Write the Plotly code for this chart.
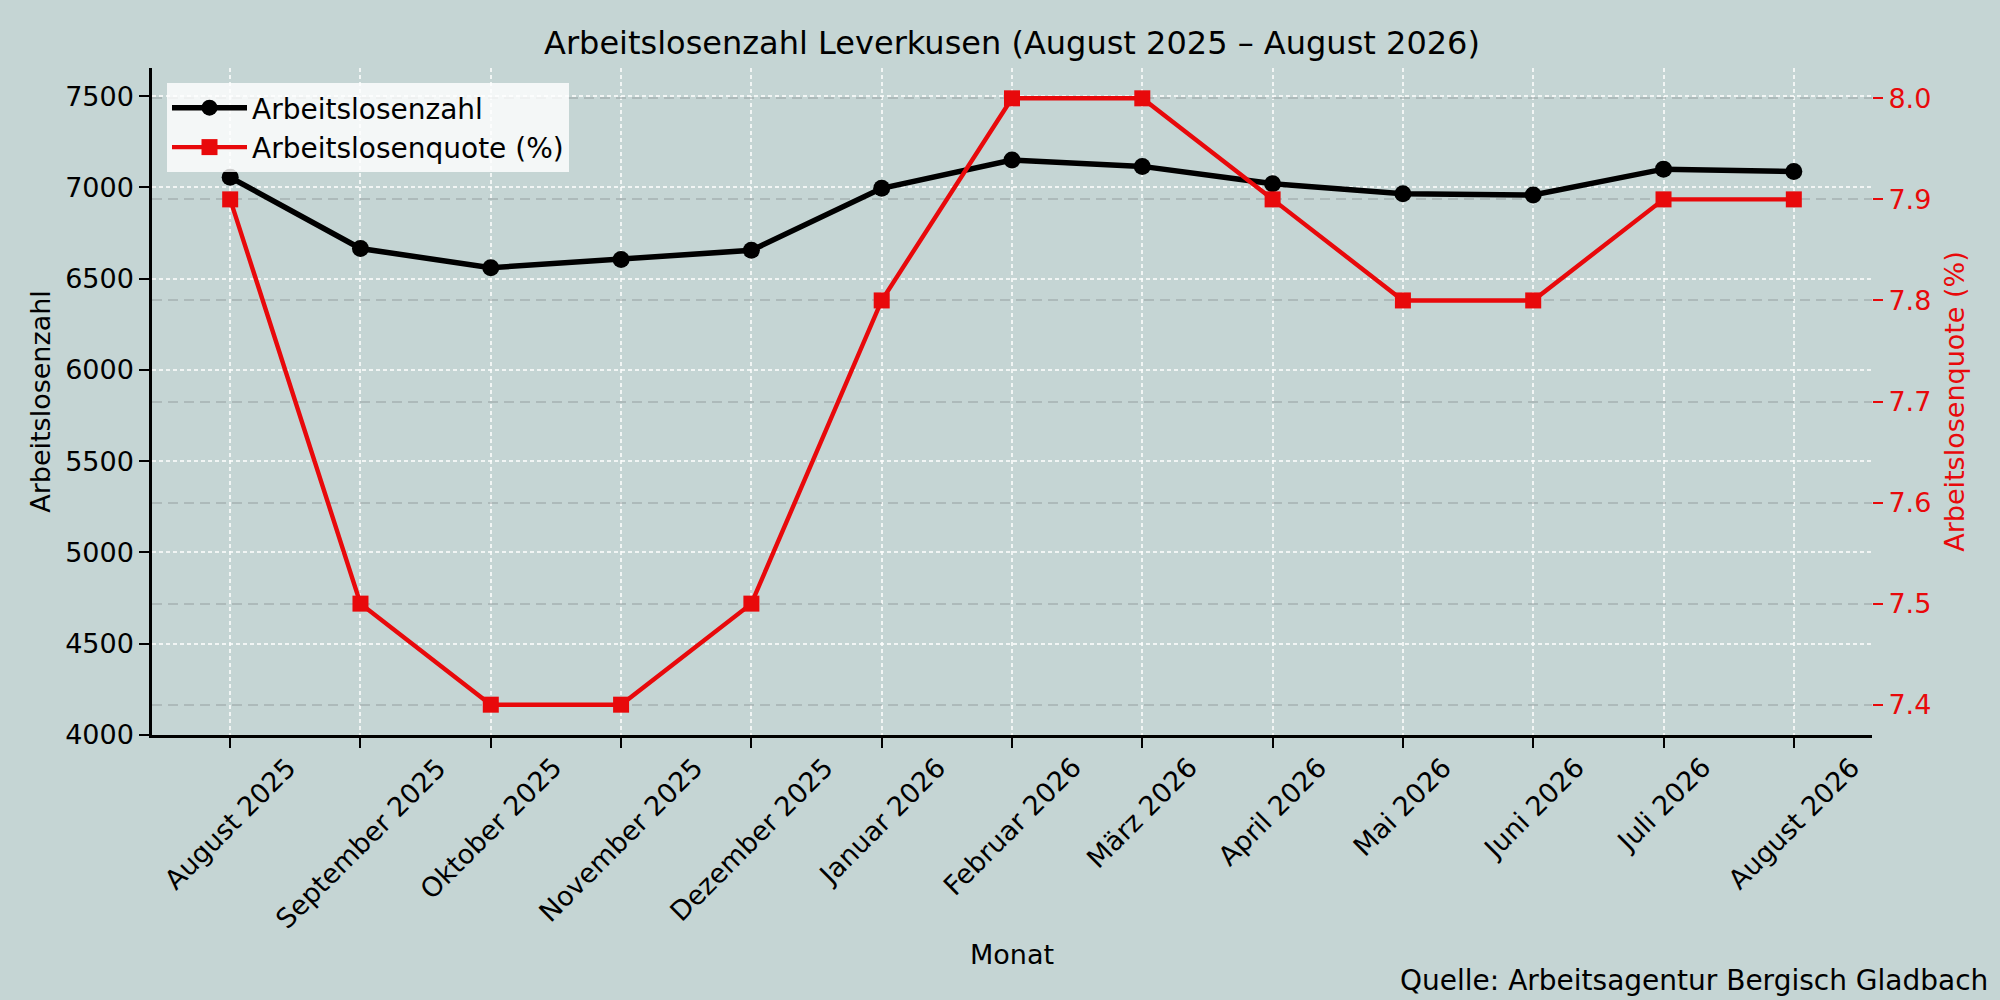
import plotly.graph_objects as go

# Monate (x-Achse)
monate = ["August 2025", "September 2025", "Oktober 2025", "November 2025",
          "Dezember 2025", "Januar 2026", "Februar 2026", "März 2026",
          "April 2026", "Mai 2026", "Juni 2026", "Juli 2026", "August 2026"]

# Arbeitslosenzahl (linke Achse)
arbeitslose = [7055, 6665, 6560, 6605, 6655, 6995, 7150, 7115,
               7020, 6965, 6958, 7100, 7087]

# Arbeitslosenquote in % (rechte Achse)
quote = [7.9, 7.5, 7.4, 7.4, 7.5, 7.8, 8.0, 8.0, 7.9, 7.8, 7.8, 7.9, 7.9]

bg = "#c5d5d4"
font = "DejaVu Sans"
rot = "#e8090b"

fig = go.Figure()

# Arbeitslosenzahl als schwarze Linie mit Kreisen
fig.add_trace(go.Scatter(
    x=monate, y=arbeitslose, name="Arbeitslosenzahl",
    mode="lines+markers",
    line=dict(color="black", width=5.5),
    marker=dict(symbol="circle", size=17, color="black"),
    yaxis="y"
))

# Quote als rote Linie mit Quadraten auf der zweiten Achse
fig.add_trace(go.Scatter(
    x=monate, y=quote, name="Arbeitslosenquote (%)",
    mode="lines+markers",
    line=dict(color=rot, width=4.4),
    marker=dict(symbol="square", size=16, color=rot),
    yaxis="y2"
))

# gedrehte Monatsbeschriftungen, zentriert unter dem Tick (wie matplotlib)
annotations = []
for m in monate:
    annotations.append(dict(
        x=m, xref="x", y=0, yref="paper", yshift=-14,
        text=m, textangle=-45, showarrow=False,
        xanchor="center", yanchor="top",
        font=dict(family=font, size=27, color="black")
    ))

# x-Achsentitel
annotations.append(dict(
    text="Monat", x=0.5, xref="paper",
    y=(735 - 954) / 667, yref="paper", yanchor="middle",
    showarrow=False, font=dict(family=font, size=27, color="black")
))

# Quellenangabe unten rechts
annotations.append(dict(
    text="Quelle: Arbeitsagentur Bergisch Gladbach",
    x=(1990 - 152) / 1720, xref="paper", xanchor="right",
    y=(735 - 980) / 667, yref="paper", yanchor="middle",
    showarrow=False, font=dict(family=font, size=28, color="black")
))

fig.update_layout(
    width=2000, height=1000,
    margin=dict(l=152, r=128, t=68, b=265),
    paper_bgcolor=bg, plot_bgcolor=bg,
    font=dict(family=font, size=27, color="black"),
    title=dict(
        text="Arbeitslosenzahl Leverkusen (August 2025 – August 2026)",
        x=0.5, xref="paper", xanchor="center",
        y=1 - 43 / 1000, yref="container", yanchor="middle",
        font=dict(family=font, size=32, color="black")
    ),
    xaxis=dict(
        type="category", range=[-0.6, 12.6],
        showticklabels=False,
        ticks="outside", ticklen=10, tickwidth=2.2, tickcolor="black",
        showline=True, linecolor="black", linewidth=2.5,
        showgrid=True, gridcolor="rgba(255,255,255,0.75)", gridwidth=1.5,
        griddash="4px,3px", zeroline=False
    ),
    yaxis=dict(
        range=[4000, 7654], dtick=500, tick0=4000,
        ticks="outside", ticklen=10, tickwidth=2.2, tickcolor="black",
        showline=True, linecolor="black", linewidth=2.5,
        showgrid=True, gridcolor="rgba(255,255,255,0.75)", gridwidth=1.5,
        griddash="4px,3px", zeroline=False,
        title=dict(text="Arbeitslosenzahl", standoff=7,
                   font=dict(family=font, size=27, color="black")),
        automargin=False
    ),
    yaxis2=dict(
        overlaying="y", side="right",
        range=[7.37, 8.03], dtick=0.1, tick0=7.4, tickformat=".1f",
        ticks="outside", ticklen=10, tickwidth=2.2, tickcolor=rot,
        tickfont=dict(family=font, size=27, color=rot),
        showline=False,
        showgrid=True, gridcolor="rgba(150,160,160,0.5)", gridwidth=1.5,
        griddash="10px,6px", zeroline=False,
        title=dict(text="Arbeitslosenquote (%)", standoff=14,
                   font=dict(family=font, size=27, color=rot)),
        automargin=False
    ),
    legend=dict(
        x=(167 - 152) / 1720, xanchor="left",
        y=(735 - 83) / 667, yanchor="top",
        bgcolor="rgba(255,255,255,0.8)",
        borderwidth=0,
        font=dict(family=font, size=28, color="black"),
        itemwidth=75, tracegroupgap=0
    ),
    annotations=annotations,
    showlegend=True
)

# Seitenrand des Browsers entfernen, damit die Grafik bündig sitzt
fig.write_html("out.html", config={"displayModeBar": False},
               post_script="document.body.style.margin='0';")
